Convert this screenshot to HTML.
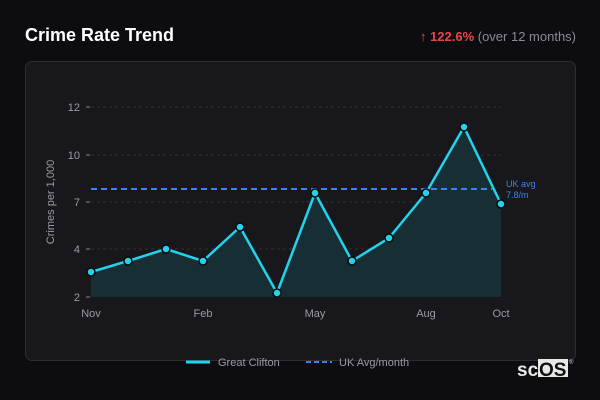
<!DOCTYPE html><html><head><style>
body{margin:0;width:600px;height:400px;background:#0d0d11;font-family:"Liberation Sans",sans-serif;overflow:hidden;position:relative}
.t{position:absolute;left:25px;top:25px;color:#fff;font-weight:bold;font-size:18px}
.ch{position:absolute;right:24px;top:29px;font-size:13px;color:#8a8a90}
.card{position:absolute;left:25px;top:61px;width:549px;height:298px;background:#18181c;border:1px solid #2c2c31;border-radius:7px}
</style></head><body>
<div class="t">Crime Rate Trend</div>
<div class="ch"><span style="color:#e8454a;font-weight:bold">↑ 122.6%</span> (over 12 months)</div>
<div class="card"></div>
<svg width="600" height="400" style="position:absolute;left:0;top:0" font-family="Liberation Sans, sans-serif">
<g stroke="#2e2e33" stroke-dasharray="3,3" stroke-width="1">
<line x1="91" x2="501" y1="107" y2="107"/><line x1="91" x2="501" y1="155" y2="155"/><line x1="91" x2="501" y1="202" y2="202"/><line x1="91" x2="501" y1="249" y2="249"/>
</g>
<g fill="#9a9aa0" font-size="11" text-anchor="end">
<text x="80" y="111">12</text><text x="80" y="159">10</text><text x="80" y="206">7</text><text x="80" y="253">4</text><text x="80" y="301">2</text>
</g>
<g stroke="#888" stroke-width="1"><line x1="86" x2="90" y1="107" y2="107"/><line x1="86" x2="90" y1="155" y2="155"/><line x1="86" x2="90" y1="202" y2="202"/><line x1="86" x2="90" y1="249" y2="249"/><line x1="86" x2="90" y1="297" y2="297"/></g>
<text transform="translate(54,202) rotate(-90)" fill="#9a9aa0" font-size="11" text-anchor="middle">Crimes per 1,000</text>
<g fill="#9a9aa0" font-size="11" text-anchor="middle">
<text x="91" y="317">Nov</text><text x="203" y="317">Feb</text><text x="315" y="317">May</text><text x="426" y="317">Aug</text><text x="501" y="317">Oct</text>
</g>
<polygon fill="#17363c" fill-opacity="0.75" points="91,297 91,272 128,261 166,249 203,261 240,227 277,293 315,193 352,261 389,238 426,193 464,127 501,204 501,297"/>
<line x1="91" x2="492" y1="189" y2="189" stroke="#3b82f6" stroke-width="2" stroke-dasharray="6,4"/>
<text x="506" y="187" fill="#3b82f6" font-size="9">UK avg</text><text x="506" y="198" fill="#3b82f6" font-size="9">7.8/m</text>
<polyline fill="none" stroke="#22d3ee" stroke-width="2.5" stroke-linejoin="round" points="91,272 128,261 166,249 203,261 240,227 277,293 315,193 352,261 389,238 426,193 464,127 501,204"/>
<g fill="#22d3ee" stroke="#0a0a0a" stroke-width="1.5">
<circle cx="91" cy="272" r="4"/><circle cx="128" cy="261" r="4"/><circle cx="166" cy="249" r="4"/><circle cx="203" cy="261" r="4"/><circle cx="240" cy="227" r="4"/><circle cx="277" cy="293" r="4"/><circle cx="315" cy="193" r="4"/><circle cx="352" cy="261" r="4"/><circle cx="389" cy="238" r="4"/><circle cx="426" cy="193" r="4"/><circle cx="464" cy="127" r="4"/><circle cx="501" cy="204" r="4"/>
</g>
<line x1="186" x2="210" y1="362" y2="362" stroke="#22d3ee" stroke-width="3"/>
<text x="218" y="366" fill="#9a9aa0" font-size="11">Great Clifton</text>
<line x1="306" x2="332" y1="362" y2="362" stroke="#3b82f6" stroke-width="2" stroke-dasharray="5,3"/>
<text x="339" y="366" fill="#9a9aa0" font-size="11">UK Avg/month</text>
<rect x="538" y="359" width="30" height="18" fill="#e8e8e8"/>
<text x="517" y="376" fill="#e8e8e8" font-size="19" font-weight="bold">sc</text>
<text x="539" y="376" fill="#111" font-size="19" font-weight="bold">OS</text>
<text x="569" y="364" fill="#ccc" font-size="6">®</text>
</svg>
</body></html>
